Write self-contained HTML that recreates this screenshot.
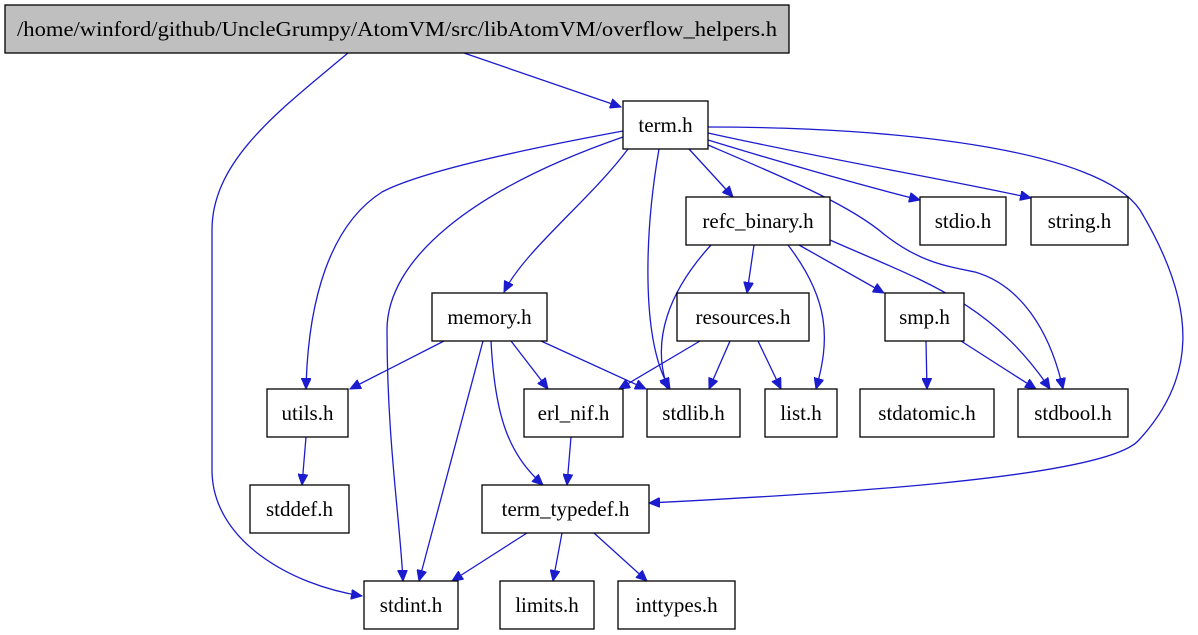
<!DOCTYPE html>
<html><head><meta charset="utf-8"><style>
html,body{margin:0;padding:0;background:#fff;}
svg{display:block}
text{font-family:"Liberation Serif",serif;font-size:21px;fill:#000;text-anchor:middle;dominant-baseline:central}
rect{stroke:#000;stroke-width:1.3;fill:#fff}
path{fill:none;stroke:#1c1ccf;stroke-width:1.3}
</style></head><body>
<svg width="1198" height="635" viewBox="0 0 1198 635" xmlns="http://www.w3.org/2000/svg">
<defs>
<marker id="a" markerUnits="userSpaceOnUse" markerWidth="12" markerHeight="10" refX="11" refY="5" orient="auto">
<path d="M0,0 L11,5 L0,10 Z" style="fill:#1c1ccf;stroke:#1c1ccf;stroke-width:1"/>
</marker>
</defs>
<g marker-end="url(#a)">
<path d="M464,53 L621,107"/>
<path d="M348,53 C280,110 212,160 212,230 L212,470 C212,540 290,585 362,596"/>
<path d="M623,131 C520,150 420,172 382,192 C330,225 308,300 306,389"/>
<path d="M623,137 C470,190 387,260 387,330 C387,440 400,520 403,581"/>
<path d="M628,149 C590,200 525,250 504,292"/>
<path d="M659,149 C645,230 640,340 670,389"/>
<path d="M689,149 L733,197"/>
<path d="M708,140 C790,165 860,185 920,200"/>
<path d="M708,133 C830,160 950,180 1031,198"/>
<path d="M708,145 C790,180 850,205 885,235 C920,262 945,266 975,272 C1020,285 1050,330 1063,389"/>
<path d="M708,127 C900,127 1100,150 1140,210 C1200,310 1195,380 1138,441 C1100,480 800,495 649,503"/>
<path d="M711,245 C670,290 650,340 668,389"/>
<path d="M754,245 L747,293"/>
<path d="M788,245 C830,300 830,340 816,389"/>
<path d="M799,245 L884,293"/>
<path d="M830,240 C920,280 990,300 1050,389"/>
<path d="M444,341 L350,389"/>
<path d="M483,341 L419,581"/>
<path d="M491,341 C495,420 510,455 543,485"/>
<path d="M511,341 L548,389"/>
<path d="M541,341 L646,389"/>
<path d="M700,341 L619,389"/>
<path d="M730,341 L709,389"/>
<path d="M758,341 L781,389"/>
<path d="M926,341 L927,389"/>
<path d="M961,341 L1036,389"/>
<path d="M306,437 L302,485"/>
<path d="M571,437 L567,485"/>
<path d="M527,533 L452,581"/>
<path d="M562,533 L553,581"/>
<path d="M594,533 L647,581"/>
</g>
<rect x="5" y="5" width="784" height="48" style="fill:#bfbfbf"/>
<text x="397" y="29" textLength="760" lengthAdjust="spacingAndGlyphs">/home/winford/github/UncleGrumpy/AtomVM/src/libAtomVM/overflow_helpers.h</text>
<rect x="623" y="101" width="85" height="48"/><text x="665.5" y="125">term.h</text>
<rect x="686" y="197" width="144" height="48"/><text x="758" y="221">refc_binary.h</text>
<rect x="920" y="197" width="86" height="48"/><text x="963" y="221">stdio.h</text>
<rect x="1031" y="197" width="97" height="48"/><text x="1079.5" y="221">string.h</text>
<rect x="432" y="293" width="115" height="48"/><text x="489.5" y="317">memory.h</text>
<rect x="677" y="293" width="132" height="48"/><text x="743" y="317">resources.h</text>
<rect x="885" y="293" width="79" height="48"/><text x="924.5" y="317">smp.h</text>
<rect x="267" y="389" width="81" height="48"/><text x="307.5" y="413">utils.h</text>
<rect x="524" y="389" width="99" height="48"/><text x="573.5" y="413">erl_nif.h</text>
<rect x="647" y="389" width="93" height="48"/><text x="693.5" y="413">stdlib.h</text>
<rect x="765" y="389" width="72" height="48"/><text x="801" y="413">list.h</text>
<rect x="860" y="389" width="134" height="48"/><text x="927" y="413">stdatomic.h</text>
<rect x="1018" y="389" width="110" height="48"/><text x="1073" y="413">stdbool.h</text>
<rect x="250" y="485" width="99" height="48"/><text x="299.5" y="509">stddef.h</text>
<rect x="482" y="485" width="167" height="48"/><text x="565.5" y="509">term_typedef.h</text>
<rect x="364" y="581" width="94" height="48"/><text x="411" y="605">stdint.h</text>
<rect x="500" y="581" width="94" height="48"/><text x="547" y="605">limits.h</text>
<rect x="618" y="581" width="117" height="48"/><text x="676.5" y="605">inttypes.h</text>
</svg>
</body></html>
